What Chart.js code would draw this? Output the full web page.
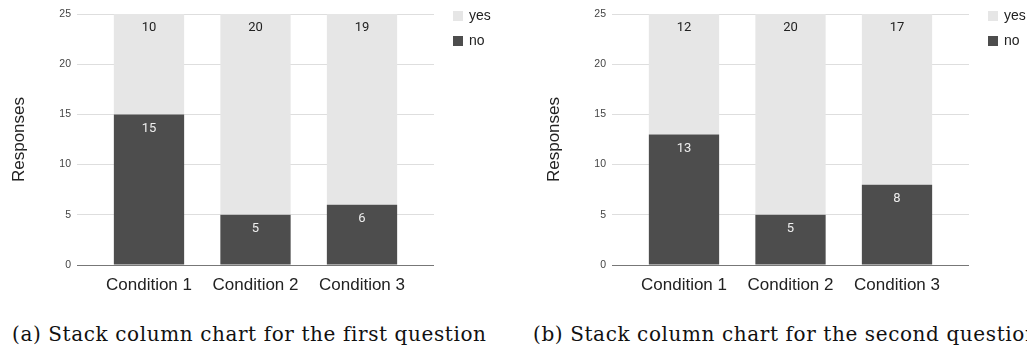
<!DOCTYPE html>
<html>
<head>
<meta charset="utf-8">
<script src="https://cdn.jsdelivr.net/npm/chart.js@4/dist/chart.umd.min.js"></script>
<style>
  body { margin: 0; background: #fff; width: 1027px; height: 349px; overflow: hidden; position: relative; }
  .box { position: absolute; top: 0; width: 492px; height: 300px; }
  .cap { position: absolute; top: 322px; font: 20px "DejaVu Serif", serif; letter-spacing: 0.6px; line-height: 24px; color: #111; white-space: nowrap; }
</style>
</head>
<body>
<div class="box" style="left:0"><canvas id="chartA"></canvas></div>
<div class="box" style="left:535px"><canvas id="chartB"></canvas></div>
<div class="cap" style="left:12px">(a) Stack column chart for the first question</div>
<div class="cap" style="left:533px">(b) Stack column chart for the second question</div>
<script>
var categories = ["Condition 1", "Condition 2", "Condition 3"];
var seriesNames = ["no", "yes"];

// first question
var q1No = [15, 5, 6];
var q1Yes = [10, 20, 19];

// second question
var q2No = [13, 5, 8];
var q2Yes = [12, 20, 17];

var yMin = 0, yMax = 25, yStep = 5;

var darkGrey = "#4d4d4d";
var lightGrey = "#e6e6e6";

// value printed near the top of each stacked piece
var valueLabels = {
    id: "valueLabels",
    afterDatasetsDraw: function(chart) {
        var ctx = chart.ctx;
        ctx.save();
        ctx.font = "13px Roboto";
        ctx.textAlign = "center";
        ctx.textBaseline = "middle";
        chart.data.datasets.forEach(function(ds, i) {
            var meta = chart.getDatasetMeta(i);
            ctx.fillStyle = ds.labelColor;
            meta.data.forEach(function(bar, j) {
                ctx.fillText(String(ds.data[j].y), bar.x, bar.y + 14);
            });
        });
        ctx.restore();
    }
};

// small legend at the top right, "yes" above "no"
var sideLegend = {
    id: "sideLegend",
    afterDraw: function(chart) {
        var ctx = chart.ctx;
        var x = chart.chartArea.right + 19;
        ctx.save();
        ctx.font = "14px 'Liberation Sans'";
        ctx.textBaseline = "middle";
        var items = chart.data.datasets.slice().reverse();
        items.forEach(function(ds, k) {
            var y = 11 + k * 25;
            ctx.fillStyle = ds.backgroundColor;
            ctx.fillRect(x, y, 10, 10);
            ctx.fillStyle = "#222";
            ctx.fillText(ds.label, x + 16, y + 5.5);
        });
        ctx.restore();
    }
};

function makeChart(id, noVals, yesVals) {
    var toPoints = function(vals) {
        return vals.map(function(v, i) { return { x: i + 1, y: v }; });
    };
    return new Chart(document.getElementById(id), {
        type: "bar",
        data: {
            datasets: [
                {
                    label: seriesNames[0],
                    data: toPoints(noVals),
                    backgroundColor: darkGrey,
                    labelColor: "#eeeeee"
                },
                {
                    label: seriesNames[1],
                    data: toPoints(yesVals),
                    backgroundColor: lightGrey,
                    labelColor: "#222222"
                }
            ]
        },
        options: {
            responsive: true,
            maintainAspectRatio: false,
            animation: false,
            categoryPercentage: 1,
            barPercentage: 0.66,
            layout: { padding: { top: 14, right: 58, bottom: 0, left: 0 } },
            plugins: {
                legend: { display: false },
                tooltip: { enabled: false }
            },
            scales: {
                x: {
                    type: "linear",
                    stacked: true,
                    offset: false,
                    min: 0.324,
                    max: 3.676,
                    afterBuildTicks: function(s) {
                        s.ticks = categories.map(function(c, i) { return { value: i + 1 }; });
                    },
                    afterFit: function(s) { s.height = 35; },
                    ticks: {
                        callback: function(v, i) { return categories[i]; },
                        font: { family: "'Liberation Sans'", size: 17 },
                        color: "#222",
                        padding: 2,
                        maxRotation: 0
                    },
                    grid: { display: false },
                    border: { display: false }
                },
                y: {
                    stacked: true,
                    min: yMin,
                    max: yMax,
                    afterFit: function(s) { s.width = 77; },
                    ticks: {
                        stepSize: yStep,
                        font: { family: "'Liberation Sans'", size: 10.5 },
                        color: "#444",
                        padding: 6
                    },
                    grid: {
                        drawTicks: false,
                        color: function(c) { return c.tick && c.tick.value === 0 ? "#777" : "#dedede"; }
                    },
                    border: { display: false },
                    title: {
                        display: true,
                        text: "Responses",
                        font: { family: "'Liberation Sans'", size: 17 },
                        color: "#222",
                        padding: { top: 9, bottom: 0 }
                    }
                }
            }
        },
        plugins: [valueLabels, sideLegend]
    });
}

makeChart("chartA", q1No, q1Yes);
makeChart("chartB", q2No, q2Yes);
</script>
</body>
</html>
